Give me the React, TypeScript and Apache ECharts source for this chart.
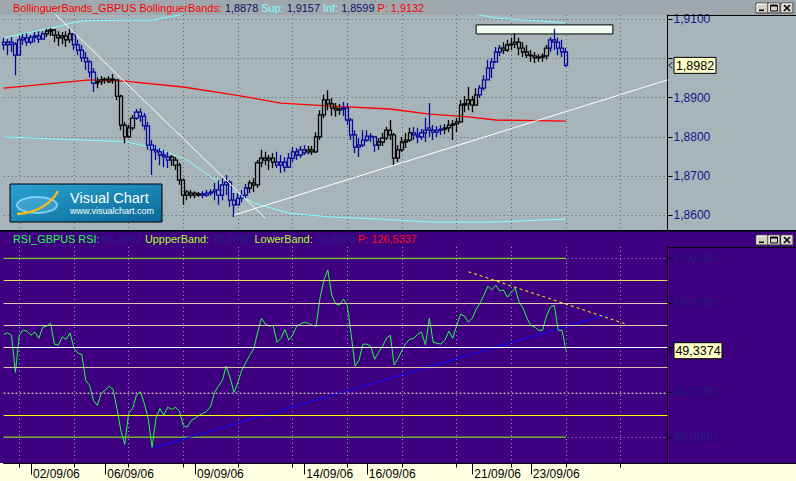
import React, { useEffect, useRef } from 'react';
import * as echarts from 'echarts';

// ---------------- data ----------------
const barOpens = [
  1.9041, 1.9034, 1.9041, 1.9036, 1.9008, 1.9047, 1.9052, 1.9041, 1.9054, 1.9057,
  1.9049, 1.9062, 1.9069, 1.9072, 1.9059, 1.9052, 1.9057, 1.9047, 1.9062, 1.9034,
  1.9021, 1.9001, 1.8991, 1.8965, 1.8937, 1.8940, 1.8945, 1.8940, 1.8947, 1.8945,
  1.8904, 1.8830, 1.8800, 1.8823, 1.8848, 1.8863, 1.8853, 1.8828, 1.8779, 1.8767,
  1.8762, 1.8754, 1.8749, 1.8749, 1.8741, 1.8728, 1.8690, 1.8660, 1.8652, 1.8657,
  1.8652, 1.8655, 1.8652, 1.8657, 1.8660, 1.8665, 1.8652, 1.8678, 1.8685, 1.8639,
  1.8627, 1.8644, 1.8652, 1.8670, 1.8683, 1.8678, 1.8734, 1.8746, 1.8741, 1.8746,
  1.8736, 1.8728, 1.8736, 1.8723, 1.8746, 1.8762, 1.8754, 1.8759, 1.8762, 1.8767,
  1.8762, 1.8800, 1.8856, 1.8894, 1.8884, 1.8873, 1.8868, 1.8871, 1.8873, 1.8843,
  1.8805, 1.8774, 1.8779, 1.8792, 1.8802, 1.8800, 1.8779, 1.8787, 1.8797, 1.8817,
  1.8805, 1.8746, 1.8767, 1.8787, 1.8792, 1.8810, 1.8805, 1.8800, 1.8810, 1.8823,
  1.8817, 1.8812, 1.8817, 1.8820, 1.8823, 1.8830, 1.8833, 1.8838, 1.8881, 1.8884,
  1.8894, 1.8881, 1.8907, 1.8924, 1.8945, 1.8975, 1.8991, 1.9016, 1.9026, 1.9021,
  1.9034, 1.9036, 1.9041, 1.9026, 1.9016, 1.9008, 1.9006, 1.9001, 1.9003, 1.9006,
  1.9026, 1.9047, 1.9041, 1.9026, 1.9016,
];
const barHighs = [
  1.9052, 1.9049, 1.9054, 1.9041, 1.9057, 1.9062, 1.9064, 1.9059, 1.9067, 1.9069,
  1.9069, 1.9075, 1.9077, 1.9072, 1.9069, 1.9067, 1.9069, 1.9075, 1.9062, 1.9047,
  1.9034, 1.9016, 1.8996, 1.8975, 1.8952, 1.8955, 1.8952, 1.8955, 1.8960, 1.8945,
  1.8907, 1.8838, 1.8830, 1.8856, 1.8871, 1.8873, 1.8861, 1.8838, 1.8792, 1.8779,
  1.8772, 1.8767, 1.8762, 1.8754, 1.8749, 1.8734, 1.8695, 1.8665, 1.8665, 1.8662,
  1.8660, 1.8662, 1.8665, 1.8667, 1.8683, 1.8690, 1.8695, 1.8703, 1.8690, 1.8657,
  1.8657, 1.8665, 1.8680, 1.8690, 1.8695, 1.8741, 1.8767, 1.8762, 1.8754, 1.8759,
  1.8762, 1.8754, 1.8749, 1.8759, 1.8774, 1.8772, 1.8777, 1.8779, 1.8777, 1.8777,
  1.8812, 1.8868, 1.8907, 1.8919, 1.8899, 1.8886, 1.8884, 1.8889, 1.8886, 1.8848,
  1.8817, 1.8797, 1.8817, 1.8817, 1.8810, 1.8802, 1.8797, 1.8810, 1.8825, 1.8843,
  1.8810, 1.8779, 1.8800, 1.8810, 1.8823, 1.8825, 1.8823, 1.8820, 1.8848, 1.8886,
  1.8830, 1.8828, 1.8830, 1.8833, 1.8843, 1.8843, 1.8848, 1.8894, 1.8904, 1.8927,
  1.8904, 1.8924, 1.8932, 1.8957, 1.8996, 1.9001, 1.9029, 1.9034, 1.9041, 1.9047,
  1.9052, 1.9064, 1.9052, 1.9041, 1.9034, 1.9021, 1.9016, 1.9011, 1.9013, 1.9034,
  1.9054, 1.9075, 1.9052, 1.9047, 1.9026,
];
const barLows = [
  1.9021, 1.9008, 1.9016, 1.8957, 1.9008, 1.9034, 1.9031, 1.9036, 1.9041, 1.9039,
  1.9047, 1.9054, 1.9057, 1.9041, 1.9031, 1.9036, 1.9029, 1.9039, 1.9021, 1.9008,
  1.8991, 1.8970, 1.8952, 1.8914, 1.8924, 1.8932, 1.8935, 1.8937, 1.8935, 1.8894,
  1.8817, 1.8784, 1.8797, 1.8817, 1.8843, 1.8838, 1.8817, 1.8767, 1.8703, 1.8741,
  1.8728, 1.8723, 1.8721, 1.8726, 1.8716, 1.8678, 1.8627, 1.8639, 1.8644, 1.8644,
  1.8647, 1.8644, 1.8647, 1.8650, 1.8639, 1.8627, 1.8639, 1.8652, 1.8622, 1.8596,
  1.8627, 1.8634, 1.8644, 1.8657, 1.8660, 1.8670, 1.8723, 1.8728, 1.8716, 1.8721,
  1.8721, 1.8708, 1.8711, 1.8721, 1.8736, 1.8741, 1.8746, 1.8754, 1.8756, 1.8754,
  1.8759, 1.8792, 1.8848, 1.8868, 1.8853, 1.8851, 1.8856, 1.8853, 1.8830, 1.8792,
  1.8759, 1.8749, 1.8774, 1.8787, 1.8787, 1.8762, 1.8767, 1.8777, 1.8792, 1.8792,
  1.8728, 1.8736, 1.8762, 1.8772, 1.8787, 1.8792, 1.8784, 1.8792, 1.8787, 1.8800,
  1.8792, 1.8800, 1.8805, 1.8807, 1.8812, 1.8792, 1.8812, 1.8836, 1.8863, 1.8868,
  1.8863, 1.8881, 1.8899, 1.8919, 1.8945, 1.8950, 1.8988, 1.9006, 1.9011, 1.9016,
  1.9021, 1.9026, 1.9008, 1.9003, 1.9001, 1.8991, 1.8988, 1.8991, 1.8991, 1.8996,
  1.9016, 1.9021, 1.9008, 1.9003, 1.8978,
];
const barCloses = [
  1.9034, 1.9041, 1.9036, 1.9008, 1.9047, 1.9052, 1.9041, 1.9054, 1.9057, 1.9049,
  1.9062, 1.9069, 1.9072, 1.9059, 1.9052, 1.9057, 1.9047, 1.9062, 1.9034, 1.9021,
  1.9001, 1.8991, 1.8965, 1.8937, 1.8940, 1.8945, 1.8947, 1.8947, 1.8945, 1.8904,
  1.8830, 1.8800, 1.8823, 1.8848, 1.8863, 1.8853, 1.8828, 1.8779, 1.8767, 1.8762,
  1.8754, 1.8749, 1.8741, 1.8741, 1.8728, 1.8690, 1.8652, 1.8652, 1.8657, 1.8652,
  1.8655, 1.8652, 1.8657, 1.8660, 1.8665, 1.8652, 1.8678, 1.8685, 1.8639, 1.8627,
  1.8644, 1.8652, 1.8670, 1.8683, 1.8678, 1.8734, 1.8746, 1.8741, 1.8746, 1.8736,
  1.8728, 1.8736, 1.8723, 1.8746, 1.8762, 1.8754, 1.8767, 1.8767, 1.8767, 1.8762,
  1.8800, 1.8856, 1.8894, 1.8884, 1.8873, 1.8868, 1.8871, 1.8873, 1.8843, 1.8805,
  1.8774, 1.8779, 1.8792, 1.8802, 1.8800, 1.8779, 1.8787, 1.8797, 1.8817, 1.8805,
  1.8746, 1.8767, 1.8787, 1.8792, 1.8810, 1.8805, 1.8800, 1.8810, 1.8817, 1.8817,
  1.8812, 1.8817, 1.8820, 1.8823, 1.8830, 1.8833, 1.8838, 1.8881, 1.8884, 1.8894,
  1.8881, 1.8907, 1.8924, 1.8945, 1.8975, 1.8991, 1.9016, 1.9026, 1.9021, 1.9034,
  1.9036, 1.9041, 1.9026, 1.9016, 1.9008, 1.9006, 1.9001, 1.9003, 1.9006, 1.9026,
  1.9047, 1.9041, 1.9026, 1.9016, 1.8982,
];
// bars painted in the "navy" regime (inclusive index runs)
const navyBarRuns: [number, number][] = [
  [0, 10], [18, 23], [34, 42], [51, 62], [70, 77], [87, 95], [105, 112], [122, 127], [140, 144],
];
const bandUpper: [number, number][] = [
  [0, 1.9052], [5, 1.9062], [12, 1.9077], [20, 1.9095], [30, 1.9097], [38, 1.9097], [45, 1.9110],
  [52, 1.9136], [70, 1.9150], [95, 1.9152], [112, 1.9140], [122, 1.9110], [126, 1.9103],
  [133, 1.9097], [137, 1.9095], [144, 1.9090],
];
const bandMiddle: [number, number][] = [
  [0, 1.8924], [22, 1.8945], [31, 1.8942], [46, 1.8927], [59, 1.8907], [71, 1.8886], [83, 1.8879],
  [99, 1.8871], [109, 1.8858], [119, 1.8851], [126, 1.8843], [144, 1.8840],
];
const bandLower: [number, number][] = [
  [0, 1.8800], [20, 1.8792], [31, 1.8788], [39, 1.8772], [47, 1.8741], [55, 1.8685], [64, 1.8632],
  [73, 1.8606], [84, 1.8596], [96, 1.8591], [110, 1.8583], [125, 1.8583], [144, 1.8591],
];
const priceTrendDown: [number, number][] = [[13, 1.9114], [67, 1.8593]];
const priceTrendUp: [number, number][] = [[59, 1.8601], [170, 1.8945]];
const resistanceBoxFrom = [121, 1.9085];
const resistanceBoxTo = [156, 1.9062];

const rsiValues = [
  53.0, 53.3, 52.8, 44.5, 52.8, 53.9, 53.7, 52.8, 53.5, 52.1,
  54.6, 54.8, 55.5, 50.8, 50.6, 52.4, 51.9, 53.3, 49.9, 48.8,
  48.5, 42.7, 41.6, 38.2, 37.1, 39.8, 40.5, 41.4, 40.7, 36.4,
  31.5, 28.4, 35.3, 36.4, 39.4, 40.2, 37.6, 34.2, 27.7, 34.2,
  36.4, 34.9, 36.7, 36.2, 36.7, 35.8, 32.6, 32.2, 33.7, 34.2,
  34.9, 35.3, 35.8, 36.9, 40.0, 41.4, 42.7, 45.9, 43.2, 40.0,
  42.3, 45.0, 46.7, 48.3, 49.7, 53.3, 56.6, 55.3, 54.8, 55.0,
  51.2, 52.1, 54.1, 51.7, 52.8, 54.8, 55.3, 55.7, 55.5, 55.0,
  54.8, 61.1, 65.1, 67.4, 61.8, 59.8, 59.5, 60.9, 59.5, 52.8,
  45.9, 47.2, 50.8, 50.8, 50.3, 47.4, 49.0, 50.3, 52.1, 52.8,
  46.1, 47.6, 49.4, 51.0, 51.9, 52.1, 53.0, 53.5, 50.6, 56.6,
  51.2, 51.0, 50.8, 51.7, 53.7, 52.1, 55.0, 57.5, 57.1, 55.7,
  56.6, 58.6, 60.0, 61.8, 63.8, 62.9, 64.0, 62.7, 62.9, 61.3,
  62.4, 63.3, 60.2, 58.9, 56.6, 55.0, 54.6, 53.9, 53.9, 57.1,
  59.1, 59.5, 53.9, 53.9, 49.3374,
];
const rsiUpperBand: [number, number][] = [[0, 70], [144, 70]];
const rsiLowerBand: [number, number][] = [[0, 30], [144, 30]];
const rsiLevels = [65, 60, 55, 50, 45.6, 39.8, 35];
const rsiTrendUp: [number, number][] = [[38, 27.5], [154, 57.3]];
const rsiTrendDown: [number, number][] = [[119, 67.0], [159, 55.4]];

const slotCount = 171;
const gridSlots = [4, 18, 32, 46, 60, 74, 88, 102, 116, 130, 144, 158];
const dateSlots = [7, 26, 49, 77, 93, 120, 135];
const dateLabels = ['02/09/06', '06/09/06', '09/09/06', '14/09/06', '16/09/06', '21/09/06', '23/09/06'];
const priceRange = [1.85631, 1.911018];
const rsiRange = [24.1, 72.53];
const bbReadout = ['1,8878', '1,9157', '1,8599', '1,9132'];
const rsiReadout = ['60,3952', '70,0000', '30,0000', '126,5337'];

// ---------------- styling helpers ----------------
const FONT = '"Liberation Sans", Arial, sans-serif';
const TITLE_SIZE = 10.9;
const NAVY = '#08089a';
const slots = Array.from({ length: slotCount }, (_, i) => String(i));
const fmt4 = (v: number) => v.toFixed(4).replace('.', ',');
const lastClose = barCloses[barCloses.length - 1];
const lastRsi = rsiValues[rsiValues.length - 1];
const levelStyles = [
  { color: '#f6d46a', type: 'solid' },
  { color: '#e6c6b0', type: 'solid' },
  { color: '#e6c6b0', type: 'solid' },
  { color: '#ffffff', type: 'solid' },
  { color: '#e2c2aa', type: 'solid' },
  { color: '#c8ae98', type: [2, 2] },
  { color: '#ffff00', type: 'solid' },
];

function buttonGfx(x: number, y: number, kind: string) {
  const w = 12;
  const h = 10;
  const ch: any[] = [
    { type: 'rect', shape: { x, y, width: w, height: h }, style: { fill: '#d4d0c8', stroke: '#404040', lineWidth: 1 } },
    { type: 'polyline', shape: { points: [[x + 1, y + h - 1], [x + 1, y + 1], [x + w - 1, y + 1]] }, style: { stroke: '#ffffff', fill: 'none', lineWidth: 1 } },
  ];
  if (kind === 'min') {
    ch.push({ type: 'rect', shape: { x: x + 3, y: y + 6.5, width: 5, height: 1.6 }, style: { fill: '#000' } });
  } else if (kind === 'max') {
    ch.push({ type: 'rect', shape: { x: x + 2.5, y: y + 2, width: 7, height: 6 }, style: { fill: 'none', stroke: '#000', lineWidth: 1 } });
    ch.push({ type: 'rect', shape: { x: x + 2.5, y: y + 2, width: 7, height: 1.5 }, style: { fill: '#000' } });
  } else {
    ch.push({ type: 'line', shape: { x1: x + 3, y1: y + 2, x2: x + 9, y2: y + 8 }, style: { stroke: '#000', lineWidth: 1.5 } });
    ch.push({ type: 'line', shape: { x1: x + 9, y1: y + 2, x2: x + 3, y2: y + 8 }, style: { stroke: '#000', lineWidth: 1.5 } });
  }
  return { type: 'group', z: 100, children: ch };
}

function winButtons(y: number) {
  return [buttonGfx(756, y, 'min'), buttonGfx(768, y, 'max'), buttonGfx(781, y, 'close')];
}

function valueTag(py: number, text: string, width: number) {
  return {
    type: 'group',
    z: 100,
    children: [
      { type: 'polyline', shape: { points: [[672, py - 3], [669, py], [672, py + 3]] }, style: { stroke: '#000', fill: 'none', lineWidth: 1 } },
      { type: 'rect', shape: { x: 674, y: py - 8, width, height: 16 }, style: { fill: '#ffffc8', stroke: '#000', lineWidth: 1 } },
      { type: 'text', x: 674 + width / 2, y: py + 0.5, style: { text, fill: '#000', fontSize: 12.5, fontFamily: FONT, align: 'center', verticalAlign: 'middle' } },
    ],
  };
}

function buildGraphics(priceY: number, rsiY: number) {
  return [
    { type: 'rect', z: 100, shape: { x: 0, y: 230, width: 796, height: 1.5 }, style: { fill: '#000' } },
    { type: 'line', z: 100, shape: { x1: 667, y1: 15.5, x2: 796, y2: 15.5 }, style: { stroke: '#000', lineWidth: 1 } },
    { type: 'line', z: 100, shape: { x1: 667, y1: 247.5, x2: 796, y2: 247.5 }, style: { stroke: '#000', lineWidth: 1 } },
    { type: 'line', z: 100, shape: { x1: 667, y1: 463.5, x2: 796, y2: 463.5 }, style: { stroke: '#000', lineWidth: 1 } },
    {
      type: 'text', z: 100, x: 13, y: 8,
      style: {
        text: `{r|BollinguerBands_GBPUS BollinguerBands:} {n|${bbReadout[0]}} {c|Sup:} {n|${bbReadout[1]}} {c|Inf:} {n|${bbReadout[2]}} {r|P: ${bbReadout[3]}}`,
        fontSize: TITLE_SIZE, fontFamily: FONT, verticalAlign: 'middle', fill: '#000',
        rich: {
          r: { fill: '#ff0000', fontSize: TITLE_SIZE, fontFamily: FONT },
          n: { fill: '#10106a', fontSize: TITLE_SIZE, fontFamily: FONT },
          c: { fill: '#80ffff', fontSize: TITLE_SIZE, fontFamily: FONT },
        },
      },
    },
    {
      type: 'text', z: 100, x: 13, y: 239,
      style: {
        text: `{g|RSI_GBPUS RSI:} {n|${rsiReadout[0]}} {y|UppperBand:} {n|${rsiReadout[1]}} {y|LowerBand:} {n|${rsiReadout[2]}} {r|P: ${rsiReadout[3]}}`,
        fontSize: TITLE_SIZE, fontFamily: FONT, verticalAlign: 'middle', fill: '#000',
        rich: {
          g: { fill: '#22ff44', fontSize: TITLE_SIZE, fontFamily: FONT },
          n: { fill: '#22208c', fontSize: TITLE_SIZE, fontFamily: FONT },
          y: { fill: '#b0ff30', fontSize: TITLE_SIZE, fontFamily: FONT },
          r: { fill: '#ff1010', fontSize: TITLE_SIZE, fontFamily: FONT },
        },
      },
    },
    ...winButtons(3),
    ...winButtons(235),
    {
      type: 'group', z: 100, x: 10, y: 184,
      children: [
        {
          type: 'rect', shape: { x: 0, y: 0, width: 152, height: 38 },
          style: {
            fill: new echarts.graphic.LinearGradient(0, 0, 1, 1, [
              { offset: 0, color: '#2aa2d2' },
              { offset: 1, color: '#0a6996' },
            ]),
            stroke: '#000', lineWidth: 1,
          },
        },
        { type: 'ellipse', shape: { cx: 27, cy: 21, rx: 20, ry: 8 }, style: { fill: 'rgba(140,215,250,0.25)', stroke: '#7fd0f5', lineWidth: 2 } },
        { type: 'bezierCurve', shape: { x1: 7, y1: 30, cpx1: 24, cpy1: 29, cpx2: 40, cpy2: 22, x2: 48, y2: 7 }, style: { stroke: '#f6b81e', lineWidth: 2.5, fill: 'none' } },
        { type: 'text', x: 60, y: 13.5, style: { text: 'Visual Chart', fill: '#ffffff', fontSize: 14.5, fontFamily: FONT, verticalAlign: 'middle' } },
        { type: 'text', x: 60, y: 27, style: { text: 'www.visualchart.com', fill: '#ffffff', fontSize: 9, fontFamily: FONT, verticalAlign: 'middle' } },
      ],
    },
    valueTag(priceY, fmt4(lastClose), 42),
    valueTag(rsiY, fmt4(lastRsi), 48),
  ];
}

function isNavy(i: number) {
  return navyBarRuns.some(([a, b]) => i >= a && i <= b);
}

function buildOption(): any {
  const candleData = barCloses.map((c, i) => {
    const col = isNavy(i) ? NAVY : '#000000';
    return {
      value: [barOpens[i], c, barLows[i], barHighs[i]],
      itemStyle: { color: 'rgba(0,0,0,0)', color0: col, borderColor: col, borderColor0: col, borderWidth: 1.3 },
    };
  });
  const lineBase = { type: 'line', showSymbol: false, symbol: 'none', silent: true, clip: true };
  return {
    animation: false,
    backgroundColor: 'transparent',
    textStyle: { fontFamily: FONT },
    grid: [
      { left: 3.68, right: 128.47, top: 15, height: 215, show: false },
      { left: 3.68, right: 128.47, top: 247, height: 216.5, show: false },
    ],
    xAxis: [
      {
        type: 'category', gridIndex: 0, data: slots, boundaryGap: false,
        axisLine: { show: false, onZero: false }, axisTick: { show: false }, axisLabel: { show: false },
        splitLine: { show: true, interval: (i: number) => gridSlots.includes(i), lineStyle: { color: '#5c666b', type: [1, 3], width: 1 } },
      },
      {
        type: 'category', gridIndex: 1, data: slots, boundaryGap: false, position: 'bottom',
        axisLine: { show: true, onZero: false, lineStyle: { color: '#000', width: 1 } },
        axisTick: { show: true, interval: (i: number) => dateSlots.includes(i), length: 11, lineStyle: { color: '#000' } },
        axisLabel: {
          show: true, interval: (i: number) => dateSlots.includes(i),
          formatter: (_v: string, i: number) => {
            const k = dateSlots.indexOf(i);
            return k >= 0 ? dateLabels[k] : '';
          },
          align: 'left', padding: [0, 0, 0, 2], margin: 4, color: '#000', fontSize: 12, fontFamily: FONT,
        },
        splitLine: { show: true, interval: (i: number) => gridSlots.includes(i), lineStyle: { color: '#a58fcf', type: [1, 3], width: 1 } },
      },
      {
        type: 'category', gridIndex: 1, data: slots, boundaryGap: false, position: 'bottom',
        axisLine: { show: false, onZero: false },
        axisTick: { show: true, interval: (i: number) => gridSlots.includes(i), length: 4, lineStyle: { color: '#000' } },
        axisLabel: { show: false }, splitLine: { show: false },
      },
    ],
    yAxis: [
      {
        type: 'value', gridIndex: 0, position: 'right', min: priceRange[0], max: priceRange[1],
        minInterval: 0.01, maxInterval: 0.01,
        axisLine: { show: true, lineStyle: { color: '#000', width: 1 } },
        axisTick: { show: true, length: 5, lineStyle: { color: '#000' } },
        axisLabel: {
          color: '#14148c', fontSize: 12, fontFamily: FONT, margin: 6, showMinLabel: false, showMaxLabel: false,
          // the last-price tag sits on top of the label it covers
          formatter: (v: number) => (Math.abs(v - lastClose) < 0.003 ? '' : fmt4(v)),
        },
        splitLine: { show: true, showMinLine: false, showMaxLine: false, lineStyle: { color: '#5c666b', type: [1, 3], width: 1 } },
      },
      {
        type: 'value', gridIndex: 1, position: 'right', min: rsiRange[0], max: rsiRange[1],
        minInterval: 10, maxInterval: 10,
        axisLine: { show: true, lineStyle: { color: '#000', width: 1 } },
        axisTick: { show: true, length: 5, lineStyle: { color: '#000' } },
        axisLabel: {
          color: '#1c1c86', fontSize: 12, fontFamily: FONT, margin: 6, showMinLabel: false, showMaxLabel: false,
          formatter: (v: number) => (Math.abs(v - lastRsi) < 2.7 ? '' : fmt4(v)),
        },
        splitLine: { show: true, showMinLine: false, showMaxLine: false, lineStyle: { color: '#a58fcf', type: [1, 3], width: 1 } },
      },
    ],
    series: [
      { ...lineBase, name: 'Sup', xAxisIndex: 0, yAxisIndex: 0, data: bandUpper, lineStyle: { color: '#80ffff', width: 1 }, z: 2 },
      { ...lineBase, name: 'Inf', xAxisIndex: 0, yAxisIndex: 0, data: bandLower, lineStyle: { color: '#80ffff', width: 1 }, z: 2 },
      {
        ...lineBase, name: 'BollinguerBands', xAxisIndex: 0, yAxisIndex: 0, data: bandMiddle, lineStyle: { color: '#ff0000', width: 1.3 }, z: 2,
        markArea: {
          silent: true,
          itemStyle: { color: '#effff0', borderColor: '#000', borderWidth: 1 },
          data: [[{ coord: resistanceBoxFrom }, { coord: resistanceBoxTo }]],
        },
      },
      {
        type: 'candlestick', name: 'GBPUS', xAxisIndex: 0, yAxisIndex: 0, data: candleData, barWidth: 3.6, clip: true, silent: true, z: 3,
      },
      { ...lineBase, name: 'trend1', xAxisIndex: 0, yAxisIndex: 0, data: priceTrendDown, lineStyle: { color: '#ffffff', width: 1 }, z: 4 },
      { ...lineBase, name: 'trend2', xAxisIndex: 0, yAxisIndex: 0, data: priceTrendUp, lineStyle: { color: '#ffffff', width: 1 }, z: 4 },

      {
        ...lineBase, name: 'UppperBand', xAxisIndex: 1, yAxisIndex: 1, data: rsiUpperBand, lineStyle: { color: '#80ff00', width: 1 }, z: 2,
        markLine: {
          silent: true, symbol: ['none', 'none'], label: { show: false },
          data: rsiLevels.map((v, k) => ({ yAxis: v, lineStyle: { width: 1, ...levelStyles[k] } })),
        },
      },
      { ...lineBase, name: 'LowerBand', xAxisIndex: 1, yAxisIndex: 1, data: rsiLowerBand, lineStyle: { color: '#80ff00', width: 1 }, z: 2 },
      { ...lineBase, name: 'rsiTrendUp', xAxisIndex: 1, yAxisIndex: 1, data: rsiTrendUp, lineStyle: { color: '#0000ff', width: 1 }, z: 3 },
      { ...lineBase, name: 'rsiTrendDown', xAxisIndex: 1, yAxisIndex: 1, data: rsiTrendDown, lineStyle: { color: '#ffff00', width: 1, type: [3, 3] }, z: 3 },
      { ...lineBase, name: 'RSI', xAxisIndex: 1, yAxisIndex: 1, data: rsiValues, lineStyle: { color: '#1eff3c', width: 1 }, z: 4 },
    ],
  };
}

export default function App() {
  const ref = useRef<HTMLDivElement>(null);
  useEffect(() => {
    if (!ref.current) return;
    const chart = echarts.init(ref.current, null, { renderer: 'svg', width: 796, height: 481 });
    chart.setOption(buildOption());
    const lastIdx = barCloses.length - 1;
    const p1 = chart.convertToPixel({ gridIndex: 0 }, [lastIdx, lastClose]) as number[];
    const p2 = chart.convertToPixel({ gridIndex: 1 }, [lastIdx, lastRsi]) as number[];
    chart.setOption({ graphic: buildGraphics(p1[1], p2[1]) });
    return () => chart.dispose();
  }, []);
  return (
    <div
      ref={ref}
      style={{
        position: 'fixed',
        left: 0,
        top: 0,
        width: 796,
        height: 481,
        background:
          'linear-gradient(to bottom, #9fa9ad 0px, #9fa9ad 15px, #a7b4b9 15px, #a7b4b9 230px, #3e0080 230px, #3e0080 463px, #ffffe1 463px, #ffffe1 481px)',
      }}
    />
  );
}
